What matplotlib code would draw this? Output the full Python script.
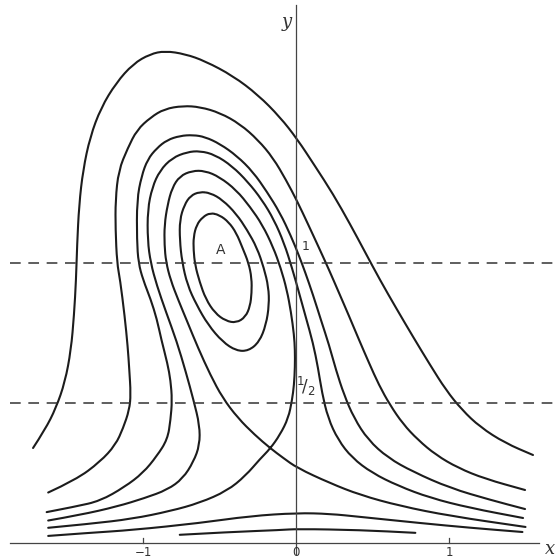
import matplotlib
matplotlib.use("Agg")
import matplotlib.pyplot as plt
from matplotlib.path import Path
from matplotlib.patches import PathPatch

# phase curves, read in axis units (x, y)
c1_x = [-0.56, -0.61, -0.65, -0.67, -0.67, -0.66, -0.63, -0.59, -0.53, -0.46, -0.39, -0.33, -0.30, -0.29, -0.29, -0.31, -0.35, -0.39, -0.44, -0.50, -0.56]
c1_y = [1.179, 1.164, 1.136, 1.093, 1.046, 0.993, 0.932, 0.871, 0.821, 0.793, 0.786, 0.807, 0.846, 0.893, 0.946, 1.000, 1.054, 1.107, 1.146, 1.171, 1.179]

c2_x = [-0.63, -0.69, -0.73, -0.76, -0.76, -0.745, -0.71, -0.65, -0.575, -0.48, -0.39, -0.31, -0.24, -0.196, -0.176, -0.18, -0.21, -0.255, -0.32, -0.39, -0.48, -0.56, -0.63]
c2_y = [1.254, 1.24, 1.207, 1.154, 1.082, 1.004, 0.921, 0.85, 0.779, 0.718, 0.686, 0.686, 0.718, 0.779, 0.85, 0.914, 0.982, 1.054, 1.118, 1.175, 1.225, 1.25, 1.254]

c3_x = [-1.62, -1.35, -1.07, -0.82, -0.63, -0.45, -0.33, -0.235, -0.17, -0.105, -0.05, -0.026, -0.013, -0.007, -0.007, -0.013, -0.033, -0.06, -0.10, -0.15, -0.22, -0.30, -0.39, -0.50, -0.595, -0.68, -0.76, -0.81, -0.84, -0.86, -0.86, -0.85, -0.82, -0.77, -0.71, -0.64, -0.56, -0.48, -0.38, -0.27, -0.17, -0.085, 0.007, 0.22, 0.42, 0.68, 1.01, 1.50]
c3_y = [0.054, 0.068, 0.086, 0.114, 0.143, 0.186, 0.24, 0.30, 0.336, 0.386, 0.446, 0.51, 0.564, 0.629, 0.689, 0.743, 0.825, 0.904, 0.982, 1.057, 1.136, 1.20, 1.26, 1.307, 1.329, 1.329, 1.31, 1.268, 1.207, 1.136, 1.064, 1.004, 0.939, 0.868, 0.789, 0.696, 0.60, 0.518, 0.446, 0.386, 0.339, 0.304, 0.268, 0.214, 0.171, 0.132, 0.096, 0.057]

c4_x = [-1.62, -1.41, -1.17, -0.99, -0.84, -0.74, -0.67, -0.63, -0.63, -0.67, -0.72, -0.78, -0.85, -0.91, -0.95, -0.97, -0.97, -0.94, -0.89, -0.81,
        -0.712, -0.627, -0.529, -0.418, -0.314, -0.222, -0.144, -0.078, -0.026, 0.020, 0.065, 0.111, 0.144, 0.170, 0.209, 0.275, 0.366, 0.497, 0.667, 0.876, 1.137, 1.484]
c4_y = [0.08, 0.10, 0.13, 0.16, 0.19, 0.23, 0.29, 0.35, 0.42, 0.51, 0.61, 0.72, 0.825, 0.92, 1.00, 1.08, 1.19, 1.27, 1.33, 1.375,
        1.396, 1.400, 1.386, 1.346, 1.289, 1.225, 1.154, 1.071, 0.982, 0.893, 0.804, 0.714, 0.625, 0.536, 0.446, 0.368, 0.304, 0.250, 0.204, 0.161, 0.125, 0.089]

c5_x = [-1.63, -1.44, -1.28, -1.12, -1.00, -0.91, -0.84, -0.82, -0.81, -0.82, -0.84, -0.88, -0.91, -0.95, -1.00, -1.03, -1.04, -1.04, -1.01, -0.97, -0.91,
        -0.843, -0.758, -0.673, -0.595, -0.497, -0.386, -0.281, -0.190, -0.105, -0.033, 0.020, 0.059, 0.111, 0.163, 0.216, 0.261, 0.314, 0.379, 0.471, 0.601, 0.765, 1.007, 1.268, 1.497]
c5_y = [0.11, 0.13, 0.15, 0.20, 0.25, 0.31, 0.37, 0.44, 0.51, 0.58, 0.64, 0.725, 0.80, 0.87, 0.94, 1.00, 1.08, 1.225, 1.31, 1.37, 1.41,
        1.439, 1.454, 1.457, 1.450, 1.425, 1.382, 1.325, 1.254, 1.179, 1.096, 1.025, 0.968, 0.886, 0.796, 0.707, 0.618, 0.529, 0.446, 0.368, 0.304, 0.254, 0.196, 0.154, 0.121]

c6_x = [-1.62, -1.44, -1.28, -1.18, -1.13, -1.09, -1.08, -1.09, -1.10, -1.12, -1.15, -1.17, -1.18, -1.18, -1.16, -1.10, -1.04, -0.95, -0.86,
        -0.739, -0.627, -0.497, -0.366, -0.248, -0.150, -0.065, 0.007, 0.078, 0.150, 0.216, 0.281, 0.346, 0.412, 0.477, 0.542, 0.614, 0.699, 0.797, 0.915, 1.059, 1.235, 1.497]
c6_y = [0.18, 0.225, 0.29, 0.35, 0.41, 0.475, 0.53, 0.62, 0.70, 0.81, 0.94, 1.00, 1.12, 1.225, 1.33, 1.41, 1.475, 1.52, 1.55,
        1.561, 1.557, 1.536, 1.496, 1.439, 1.375, 1.296, 1.221, 1.139, 1.054, 0.975, 0.893, 0.811, 0.725, 0.643, 0.564, 0.493, 0.425, 0.368, 0.314, 0.268, 0.229, 0.189]

c7_x = [-1.719, -1.641, -1.569, -1.510, -1.471, -1.451, -1.438, -1.431, -1.418, -1.392, -1.346, -1.275, -1.176, -1.065, -0.954, -0.856, -0.725, -0.595,
        -0.412, -0.248, -0.105, 0.007, 0.124, 0.242, 0.353, 0.451, 0.549, 0.654, 0.765, 0.876, 0.980, 1.085, 1.203, 1.366, 1.549]
c7_y = [0.339, 0.404, 0.482, 0.575, 0.689, 0.814, 0.939, 1.064, 1.207, 1.332, 1.450, 1.554, 1.643, 1.711, 1.746, 1.757, 1.746, 1.721,
        1.668, 1.600, 1.521, 1.443, 1.346, 1.246, 1.139, 1.039, 0.939, 0.839, 0.736, 0.636, 0.546, 0.475, 0.414, 0.357, 0.314]

# low curves hugging the x axis
hump_x = [-1.62, -1.35, -1.07, -0.63, -0.30, 0.007, 0.22, 0.42, 0.81, 1.14, 1.48]
hump_y = [0.025, 0.036, 0.046, 0.071, 0.096, 0.107, 0.104, 0.093, 0.071, 0.054, 0.039]
low_x = [-0.76, -0.43, -0.10, 0.007, 0.42, 0.78]
low_y = [0.029, 0.039, 0.046, 0.05, 0.046, 0.036]

levels = [1.0, 0.5]
xticks = [-1, 0, 1]
xtick_labels = ["\u22121", "0", "1"]

open_curves = [(c3_x, c3_y), (c4_x, c4_y), (c5_x, c5_y), (c6_x, c6_y),
               (c7_x, c7_y), (hump_x, hump_y), (low_x, low_y)]
closed_curves = [(c1_x, c1_y), (c2_x, c2_y)]


def mid(a, b):
    return ((a[0] + b[0]) / 2, (a[1] + b[1]) / 2)


def smooth_open(xs, ys):
    # quadratic B-spline: read points act as control points
    pts = list(zip(xs, ys))
    verts, codes = [pts[0]], [Path.MOVETO]
    for i in range(1, len(pts) - 1):
        verts += [pts[i], mid(pts[i], pts[i + 1])]
        codes += [Path.CURVE3, Path.CURVE3]
    verts.append(pts[-1])
    codes.append(Path.LINETO)
    return Path(verts, codes)


def smooth_closed(xs, ys):
    pts = list(zip(xs, ys))[:-1]
    n = len(pts)
    verts, codes = [mid(pts[-1], pts[0])], [Path.MOVETO]
    for i in range(n):
        verts += [pts[i], mid(pts[i], pts[(i + 1) % n])]
        codes += [Path.CURVE3, Path.CURVE3]
    return Path(verts, codes)


fig = plt.figure(figsize=(5.59, 5.60), dpi=100)
ax = fig.add_axes([0, 0, 1, 1])
ax.set_xlim(-1.935, 1.719)
ax.set_ylim(-0.061, 1.939)
ax.axis("off")

ink = "#1c1c1c"
for cx, cy in open_curves:
    ax.add_patch(PathPatch(smooth_open(cx, cy), fill=False, edgecolor=ink, lw=1.5,
                           capstyle="round", joinstyle="round"))
for cx, cy in closed_curves:
    ax.add_patch(PathPatch(smooth_closed(cx, cy), fill=False, edgecolor=ink, lw=1.5,
                           joinstyle="round"))

# axes
ax.plot([-1.87, 1.59], [0, 0], color="#444444", lw=0.9)
ax.plot([0, 0], [-0.04, 1.92], color="#444444", lw=0.9)
for t, lab in zip(xticks, xtick_labels):
    if t != 0:
        ax.plot([t, t], [0, 0.018], color="#444444", lw=0.9)
    ax.text(t, -0.036, lab, ha="center", va="center", fontsize=8.5, color="#333333")

for lv in levels:
    ax.plot([-1.87, 1.72], [lv, lv], color="#333333", lw=1.1, linestyle=(0, (7, 5)))

ax.text(-0.06, 1.86, "y", fontsize=13, family="DejaVu Serif", style="italic", ha="center", va="center", color="#333333")
ax.text(1.66, -0.02, "x", fontsize=13, family="DejaVu Serif", style="italic", ha="center", va="center", color="#333333")
ax.text(-0.49, 1.045, "A", fontsize=10, ha="center", va="center", color="#333333")
ax.text(0.065, 1.06, "1", fontsize=9, ha="center", va="center", color="#333333")
ax.text(0.065, 0.56, r"$^1\!/_2$", fontsize=12, ha="center", va="center", color="#333333")

fig.savefig("out.png", dpi=100, facecolor="white")
